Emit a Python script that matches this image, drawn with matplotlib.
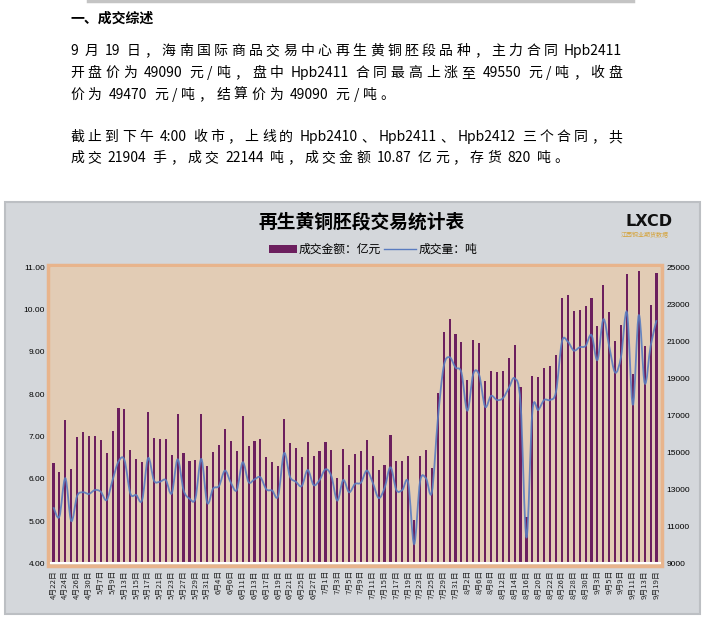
"""Recycled brass billet trading statistics chart."""

import re
import numpy as np
import matplotlib
matplotlib.use("Agg")
import matplotlib.pyplot as plt
from matplotlib.font_manager import FontProperties
from matplotlib.lines import Line2D
from matplotlib.patches import Rectangle, PathPatch
from matplotlib.path import Path

plt.rcParams['font.family'] = ['Noto Sans CJK SC', 'DejaVu Sans']

# trading days shown on the category axis
apr_days = [22, 23, 24, 25, 26, 29, 30]
may_days = [6, 7, 8, 9, 10, 13, 14, 15, 16, 17, 20, 21, 22, 23, 24, 27, 28, 29, 30, 31]
jun_days = [3, 4, 5, 6, 7, 11, 12, 13, 14, 17, 18, 19, 20, 21, 24, 25, 26, 27, 28]
jul_days = [1, 2, 3, 4, 5, 8, 9, 10, 11, 12, 15, 16, 17, 18, 19, 22, 23, 24, 25, 26, 29, 30, 31]
aug_days = [1, 2, 5, 6, 7, 8, 9, 12, 13, 14, 15, 16, 19, 20, 21, 22, 23, 26, 27, 28, 29, 30]
sep_days = [2, 3, 4, 5, 6, 9, 10, 11, 12, 13, 18, 19]

# 成交金额 (亿元)
amount = [6.38, 6.16, 7.39, 6.23, 6.99, 7.11, 7.01, 7.01, 6.92, 6.61,
          7.13, 7.67, 7.65, 6.68, 6.47, 6.40, 7.58, 6.97, 6.94, 6.94,
          6.56, 7.53, 6.61, 6.42, 6.45, 7.53, 6.30, 6.63, 6.80, 7.18,
          6.89, 6.66, 7.49, 6.78, 6.89, 6.94, 6.52, 6.40, 6.30, 7.41,
          6.85, 6.73, 6.52, 6.87, 6.54, 6.66, 6.87, 6.68, 6.02, 6.71,
          6.33, 6.59, 6.66, 6.92, 6.54, 6.21, 6.33, 7.04, 6.42, 6.42,
          6.54, 5.03, 6.54, 6.68, 6.26, 8.03, 9.47, 9.78, 9.42, 9.23,
          8.34, 9.28, 9.21, 8.31, 8.55, 8.53, 8.55, 8.86, 9.16, 8.17,
          5.10, 8.43, 8.41, 8.62, 8.67, 8.93, 10.27, 10.35, 9.97, 9.99,
          10.09, 10.27, 9.61, 10.58, 9.94, 9.26, 9.64, 10.84, 8.48, 10.91,
          9.14, 10.11, 10.87]

# 成交量 (吨)
volume = [12030, 11520, 13600, 11290, 12640, 12840, 12750, 12960, 12870, 12420,
          13500, 14500, 14590, 12780, 12690, 12420, 14680, 13470, 13410, 13500,
          12780, 14620, 12960, 12500, 12500, 14640, 12280, 13040, 13180, 14010,
          13360, 12960, 14460, 13390, 13540, 13650, 13000, 12930, 12640, 14950,
          13680, 13410, 13180, 14040, 13230, 13500, 14080, 13720, 12390, 13500,
          12840, 13290, 13360, 14010, 13360, 12530, 13070, 14190, 12960, 12960,
          13360, 10040, 13410, 13600, 12840, 16750, 19630, 20140, 19580, 19310,
          17250, 19230, 19180, 17470, 18050, 17830, 17920, 18460, 19000, 17650,
          10400, 17200, 17290, 17830, 17830, 18280, 20980, 20980, 20500, 20680,
          20750, 21340, 19990, 22190, 20710, 19310, 20170, 22550, 17560, 22420,
          18730, 20750, 22144]

para_lines = [
    "9 月 19 日，海南国际商品交易中心再生黄铜胚段品种，主力合同 Hpb2411",
    "开盘价为 49090 元/吨，盘中 Hpb2411 合同最高上涨至 49550 元/吨，收盘",
    "价为 49470 元/吨，结算价为 49090 元/吨。",
    "截止到下午 4:00 收市，上线的 Hpb2410、Hpb2411、Hpb2412 三个合同，共",
    "成交 21904 手，成交 22144 吨，成交金额 10.87 亿元，存货 820 吨。",
]

months = [(4, apr_days), (5, may_days), (6, jun_days), (7, jul_days), (8, aug_days), (9, sep_days)]
dates = [f"{m}月{d}日" for m, days in months for d in days]

W, H = 707, 635
fig = plt.figure(figsize=(W / 100, H / 100), dpi=100)
fig.patch.set_facecolor('white')


def fx(px):
    return px / W


def fy(py):
    return 1 - py / H


# ---- report text above the chart ----
fig.add_artist(Line2D([fx(88), fx(633)], [fy(1), fy(1)], color='#c4c4c4', lw=2.5))
fig.text(fx(70), fy(19), "一、成交综述", fontsize=10, fontweight='bold', va='center')

body_font = FontProperties(family=['Noto Sans CJK SC', 'DejaVu Sans'], size=10)
renderer = fig.canvas.get_renderer()


def text_width(s):
    return renderer.get_text_width_height_descent(s, body_font, ismath=False)[0]


space_w = text_width('x x') - text_width('xx')


def put_line(s, x0, y, width=None, gap=0.0):
    # words of latin letters/digits stay together, CJK characters get spread out
    toks = re.findall(r'[A-Za-z0-9.:]+|\S', s)
    ws = [text_width(t) for t in toks]
    n_sp = s.count(' ')
    if width is not None:
        gap = (width - sum(ws) - n_sp * space_w) / (len(toks) - 1)
    x = x0
    pos = 0
    for t, w in zip(toks, ws):
        start = s.index(t, pos)
        x += s.count(' ', pos, start) * space_w
        fig.text(fx(x), fy(y), t, fontproperties=body_font, va='center', ha='left')
        x += w + gap
        pos = start + len(t)
    return gap


put_line(para_lines[0], 70, 51, width=552)
g = put_line(para_lines[1], 70, 73, width=552)
put_line(para_lines[2], 70, 95, gap=g)
g = put_line(para_lines[3], 70, 137, width=552)
put_line(para_lines[4], 70, 158, gap=g)

# ---- chart panel ----
fig.add_artist(Rectangle((fx(5), fy(614)), fx(700) - fx(5), fy(202) - fy(614),
                         transform=fig.transFigure, fc='#d4d7db', ec='#bcbfc3',
                         lw=1.5, zorder=-2))
fig.add_artist(Rectangle((fx(48), fy(566)), fx(662) - fx(48), fy(265) - fy(566),
                         transform=fig.transFigure, fc='#e2ccb5', ec='#e8b48c',
                         lw=2.5, zorder=-1))

fig.text(fx(362), fy(222), "再生黄铜胚段交易统计表", ha='center', va='center',
         fontsize=13.5, fontweight='bold')

# logo
fig.text(fx(649), fy(221), "LXCD", ha='center', va='center', fontsize=11.5,
         fontweight='bold', family='DejaVu Sans', color='#111111')
fig.text(fx(645), fy(235.5), "江西铜业期货数据", ha='center', va='center', fontsize=4.3,
         color='#d4a33a')

bar_color = '#6c1f5e'
line_color = '#5a7cc0'

# legend
fig.add_artist(Rectangle((fx(269), fy(253)), fx(297) - fx(269), fy(245) - fy(253),
                         transform=fig.transFigure, fc=bar_color, ec='none'))
fig.text(fx(299), fy(249), "成交金额：亿元", va='center', fontsize=8.5)
fig.add_artist(Line2D([fx(384), fx(416)], [fy(249), fy(249)], color=line_color, lw=1))
fig.text(fx(419), fy(249), "成交量：吨", va='center', fontsize=8.5)

# ---- plot ----
ax = fig.add_axes([fx(50.5), fy(563.3), (659.5 - 50.5) / W, (563.3 - 267.3) / H])
ax.set_facecolor('#e2ccb5')
x = np.arange(len(dates))
ax.bar(x, amount, width=0.36, color=bar_color, zorder=2)
ax.set_xlim(-0.5, len(dates) - 0.5)
ax.set_ylim(4, 11)
ax.set_yticks(np.arange(4, 12))
ax.set_yticklabels([f"{v:.2f}" for v in np.arange(4, 12)], family='Liberation Sans',
                   fontsize=6)
ax.set_xticks(x[::2])
ax.set_xticklabels(dates[::2], rotation=90, fontsize=5.6, color='#222222')
ax.tick_params(length=0)
ax.tick_params(axis='y', pad=4)
ax.tick_params(axis='x', pad=5)
for side in ['left', 'right', 'top']:
    ax.spines[side].set_visible(False)
ax.spines['bottom'].set_color('white')
ax.spines['bottom'].set_linewidth(1.5)

ax2 = ax.twinx()
ax2.set_ylim(9000, 25000)
ax2.set_yticks(range(9000, 25001, 2000))
ax2.set_yticklabels([str(v) for v in range(9000, 25001, 2000)], family='Liberation Sans',
                    fontsize=6)
ax2.tick_params(length=0, pad=5)
for side in ['left', 'right', 'top', 'bottom']:
    ax2.spines[side].set_visible(False)

# smoothed volume line (cubic segments through every point)
n = len(volume)
verts = [(x[0], volume[0])]
codes = [Path.MOVETO]
for i in range(n - 1):
    xa, ya = (x[i - 1], volume[i - 1]) if i > 0 else (x[i], volume[i])
    xd, yd = (x[i + 2], volume[i + 2]) if i + 2 < n else (x[i + 1], volume[i + 1])
    c1 = (x[i] + (x[i + 1] - xa) / 6, volume[i] + (volume[i + 1] - ya) / 6)
    c2 = (x[i + 1] - (xd - x[i]) / 6, volume[i + 1] - (yd - volume[i]) / 6)
    verts += [c1, c2, (x[i + 1], volume[i + 1])]
    codes += [Path.CURVE4] * 3
ax2.add_patch(PathPatch(Path(verts, codes), fc='none', ec=line_color, lw=1.3, alpha=0.9))

plt.savefig("out.png", dpi=100)
plt.close()
